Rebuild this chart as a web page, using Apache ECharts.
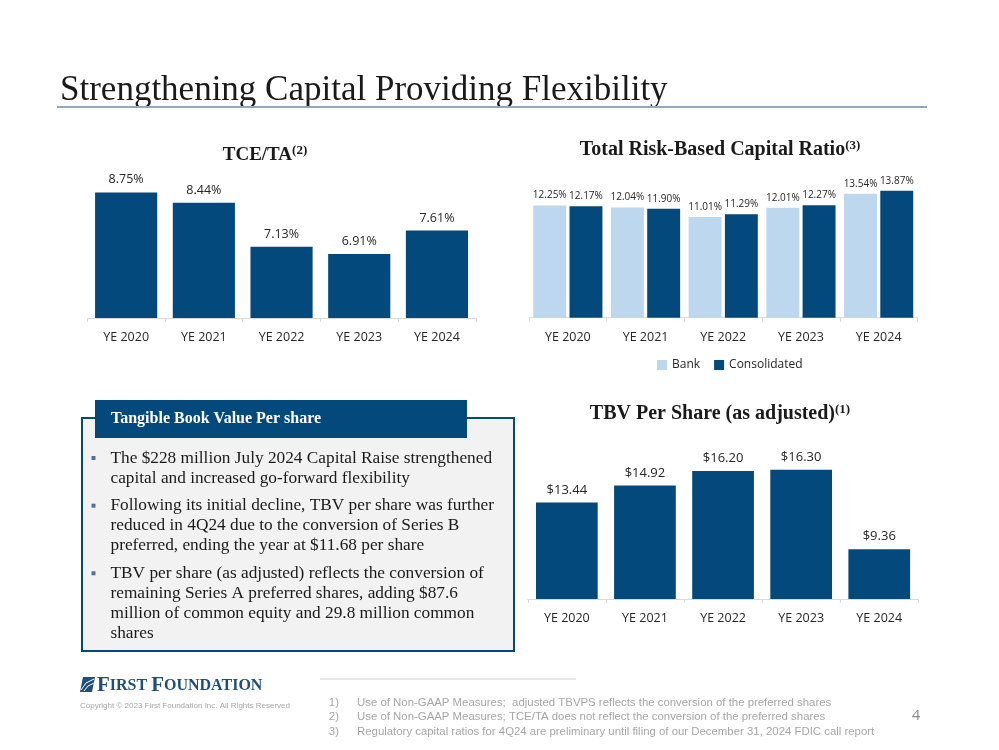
<!DOCTYPE html>
<html><head><meta charset="utf-8">
<script src="https://cdn.jsdelivr.net/npm/echarts@6/dist/echarts.min.js"></script>
<style>html,body{margin:0;padding:0;background:#fff}#c{width:999px;height:750px}</style>
</head><body><div id="c"></div>
<script>
// ---- data ----
const years = ['YE 2020', 'YE 2021', 'YE 2022', 'YE 2023', 'YE 2024'];
const tceTa = [8.75, 8.44, 7.13, 6.91, 7.61];
const trbcBank = [12.25, 12.04, 11.01, 12.01, 13.54];
const trbcConsolidated = [12.17, 11.90, 11.29, 12.27, 13.87];
const tbvPerShare = [13.44, 14.92, 16.20, 16.30, 9.36];
const legendNames = ['Bank', 'Consolidated'];
const bulletLines = [
  ['The $228 million July 2024 Capital Raise strengthened', 'capital and increased go-forward flexibility'],
  ['Following its initial decline, TBV per share was further', 'reduced in 4Q24 due to the conversion of Series B', 'preferred, ending the year at $11.68 per share'],
  ['TBV per share (as adjusted) reflects the conversion of', 'remaining Series A preferred shares, adding $87.6', 'million of common equity and 29.8 million common', 'shares']
];
const footnotes = [
  ['1)', 'Use of Non-GAAP Measures;  adjusted TBVPS reflects the conversion of the preferred shares'],
  ['2)', 'Use of Non-GAAP Measures; TCE/TA does not reflect the conversion of the preferred shares'],
  ['3)', 'Regulatory capital ratios for 4Q24 are preliminary until filing of our December 31, 2024 FDIC call report']
];

// ---- styles ----
const NAVY = '#04497B';
const LIGHT = '#BDD7EE';
const SANS = "'Open Sans', sans-serif";
const SERIF = "'Liberation Serif', serif";
const NARROW = "'Liberation Sans Narrow', 'Liberation Sans', sans-serif";

const chart = echarts.init(document.getElementById('c'), null, {renderer: 'canvas'});

function xAxisCfg(gi) {
  return {
    type: 'category', gridIndex: gi, data: years,
    axisLine: {lineStyle: {color: '#D9D9D9', width: 1}},
    axisTick: {show: true, length: 4, lineStyle: {color: '#D9D9D9'}},
    axisLabel: {color: '#262626', fontFamily: SANS, fontSize: 12.5, margin: 13}
  };
}
function yAxisCfg(gi, min, max) {
  return {type: 'value', gridIndex: gi, min: min, max: max, show: false, splitLine: {show: false}};
}

const graphics = [];
// main title
graphics.push({type: 'text', x: 60, y: 91, style: {text: 'Strengthening Capital Providing Flexibility', font: "35px 'Liberation Serif', serif", fill: '#1a1a1a', verticalAlign: 'middle', align: 'left'}});
graphics.push({type: 'line', shape: {x1: 57, y1: 107, x2: 927, y2: 107}, style: {stroke: '#8FA9C0', lineWidth: 2}});

// chart titles
function chartTitle(x, y, main, sup, size) {
  return {type: 'text', x: x, y: y, style: {
    text: '{m|' + main + '}{s|' + sup + '}', align: 'center', verticalAlign: 'middle',
    rich: {
      m: {fontFamily: SERIF, fontWeight: 'bold', fontSize: size, fill: '#1a1a1a', color: '#1a1a1a'},
      s: {fontFamily: SERIF, fontWeight: 'bold', fontSize: 13, fill: '#1a1a1a', color: '#1a1a1a', padding: [0, 0, 9, 0]}
    }
  }};
}
graphics.push(chartTitle(265, 155, 'TCE/TA', '(2)', 19));
graphics.push(chartTitle(720, 150, 'Total Risk-Based Capital Ratio', '(3)', 20));
graphics.push(chartTitle(720, 414, 'TBV Per Share (as adjusted)', '(1)', 20));

// text box
graphics.push({type: 'rect', shape: {x: 82, y: 418, width: 432, height: 233}, style: {fill: '#F2F2F2', stroke: NAVY, lineWidth: 2}});
graphics.push({type: 'rect', shape: {x: 95, y: 400, width: 372, height: 38}, style: {fill: NAVY}});
graphics.push({type: 'text', x: 111, y: 419, style: {text: 'Tangible Book Value Per share', font: "bold 16px 'Liberation Serif', serif", fill: '#ffffff', verticalAlign: 'middle', align: 'left'}});
const bulletTops = [448, 495.7, 563.3];
bulletLines.forEach(function (lines, i) {
  graphics.push({type: 'rect', shape: {x: 91.5, y: bulletTops[i] + 8, width: 4, height: 4}, style: {fill: '#4F7396'}});
  graphics.push({type: 'text', x: 110.5, y: bulletTops[i], style: {text: lines.join('\n'), font: "17.3px 'Liberation Serif', serif", lineHeight: 20, fill: '#1a1a1a', verticalAlign: 'top', align: 'left'}});
});

// logo
graphics.push({type: 'polygon', shape: {points: [[83, 677], [95, 677], [92, 692], [80, 692]]}, style: {fill: '#1F4E79'}});
graphics.push({type: 'polyline', shape: {points: [[81, 690], [86, 683], [94, 679]]}, style: {stroke: '#ffffff', lineWidth: 1, fill: null}});
graphics.push({type: 'polyline', shape: {points: [[84, 691], [88, 686], [94, 683]]}, style: {stroke: '#ffffff', lineWidth: 1, fill: null}});
graphics.push({type: 'text', x: 97, y: 685.5, style: {
  text: '{b|F}{s|IRST }{b|F}{s|OUNDATION}', verticalAlign: 'middle', align: 'left',
  rich: {
    b: {fontFamily: SERIF, fontWeight: 'bold', fontSize: 21, fill: '#1F4E79', color: '#1F4E79'},
    s: {fontFamily: SERIF, fontWeight: 'bold', fontSize: 16, fill: '#1F4E79', color: '#1F4E79'}
  }}});
graphics.push({type: 'text', x: 80, y: 706, style: {text: 'Copyright \u00A9 2023 First Foundation Inc. All Rights Reserved', font: "8px " + NARROW, fill: '#A6A6A6', verticalAlign: 'middle', align: 'left'}});

// footnotes
graphics.push({type: 'line', shape: {x1: 320, y1: 679, x2: 576, y2: 679}, style: {stroke: '#D0D0D0', lineWidth: 1}});
const footY = [702.5, 717, 731.5];
footnotes.forEach(function (f, i) {
  graphics.push({type: 'text', x: 339, y: footY[i], style: {text: f[0], font: "11.4px " + NARROW, fill: '#A6A6A6', verticalAlign: 'middle', align: 'right'}});
  graphics.push({type: 'text', x: 357, y: footY[i], style: {text: f[1], font: "11.4px " + NARROW, fill: '#A6A6A6', verticalAlign: 'middle', align: 'left'}});
});
graphics.push({type: 'text', x: 916, y: 716, style: {text: '4', font: "15px 'Open Sans', sans-serif", fill: '#8C8C8C', verticalAlign: 'middle', align: 'center'}});

const option = {
  backgroundColor: '#ffffff',
  animation: false,
  textStyle: {fontFamily: SANS},
  grid: [
    {left: 87.3, width: 388.5, top: 150.5, height: 167.5, outerBoundsMode: 'none'},
    {left: 529, width: 388.5, top: 171.2, height: 146.5, outerBoundsMode: 'none'},
    {left: 527.8, width: 390.5, top: 450.4, height: 148.6, outerBoundsMode: 'none'}
  ],
  xAxis: [xAxisCfg(0), xAxisCfg(1), xAxisCfg(2)],
  yAxis: [yAxisCfg(0, 5, 10), yAxisCfg(1, 0, 16), yAxisCfg(2, 5, 18)],
  legend: {
    data: legendNames, left: 657, top: 359, itemWidth: 10, itemHeight: 10, itemGap: 14,
    icon: 'rect', textStyle: {fontFamily: SANS, fontSize: 12, color: '#262626'},
    padding: 0
  },
  series: [
    {type: 'bar', name: 'TCE/TA', xAxisIndex: 0, yAxisIndex: 0, data: tceTa, barCategoryGap: '20%',
      itemStyle: {color: NAVY},
      label: {show: true, position: 'top', distance: 6, fontFamily: SANS, fontSize: 12.5, color: '#262626',
        formatter: function (p) { return p.value.toFixed(2) + '%'; }}},
    {type: 'bar', name: 'Bank', xAxisIndex: 1, yAxisIndex: 1, data: trbcBank, barCategoryGap: '11%', barGap: '10%',
      itemStyle: {color: LIGHT},
      label: {show: true, position: 'top', distance: 5, fontFamily: SANS, fontSize: 10, color: '#262626',
        formatter: function (p) { return p.value.toFixed(2) + '%'; }}},
    {type: 'bar', name: 'Consolidated', xAxisIndex: 1, yAxisIndex: 1, data: trbcConsolidated, barCategoryGap: '11%', barGap: '10%',
      itemStyle: {color: NAVY},
      label: {show: true, position: 'top', distance: 5, fontFamily: SANS, fontSize: 10, color: '#262626',
        formatter: function (p) { return p.value.toFixed(2) + '%'; }}},
    {type: 'bar', name: 'TBV Per Share', xAxisIndex: 2, yAxisIndex: 2, data: tbvPerShare, barCategoryGap: '21%',
      itemStyle: {color: NAVY},
      label: {show: true, position: 'top', distance: 6, fontFamily: SANS, fontSize: 13, color: '#262626',
        formatter: function (p) { return '$' + p.value.toFixed(2); }}}
  ],
  graphic: {elements: graphics}
};
chart.setOption(option);
</script>
</body></html>
